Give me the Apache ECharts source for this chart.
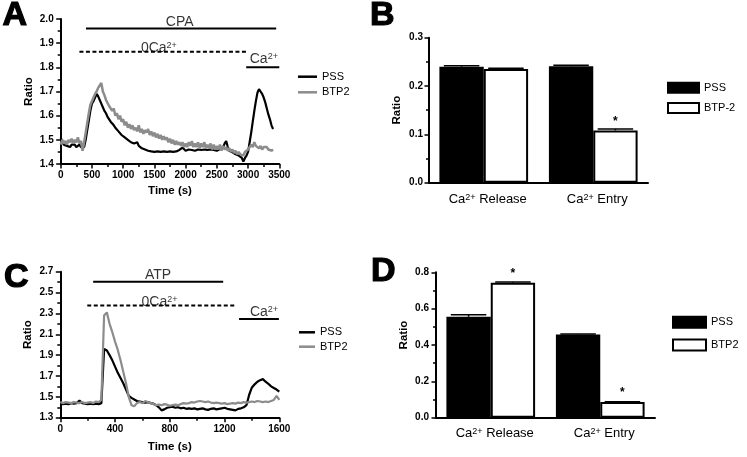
<!DOCTYPE html>
<html><head><meta charset="utf-8">
<script src="https://cdn.jsdelivr.net/npm/echarts@6/dist/echarts.min.js"></script>
<style>html,body{margin:0;padding:0;background:#fff}#c{width:747px;height:457px}</style>
</head><body><div id="c"></div>
<script>
// ---------- Panel A (CPA) traces ----------
const timeA = [0,25,50,75,100,125,150,175,200,225,250,275,300,325,350,375,400,425,450,475,500,525,550,575,600,625,650,675,700,725,750,775,800,825,850,875,900,925,950,975,1000,1025,1050,1075,1100,1125,1150,1175,1200,1225,1250,1275,1300,1325,1350,1375,1400,1425,1450,1475,1500,1525,1550,1575,1600,1625,1650,1675,1700,1725,1750,1775,1800,1825,1850,1875,1900,1925,1950,1975,2000,2025,2050,2075,2100,2125,2150,2175,2200,2225,2250,2275,2300,2325,2350,2375,2400,2425,2450,2475,2500,2525,2550,2575,2600,2625,2650,2675,2700,2725,2750,2775,2800,2825,2850,2875,2900,2925,2950,2975,3000,3025,3050,3075,3100,3125,3150,3175,3200,3225,3250,3275,3300,3325,3350,3375,3400];
const pssA = [
1.51,1.49,1.48,1.485,1.475,1.48,1.47,1.48,1.475,1.48,
1.47,1.475,1.48,1.47,1.465,1.47,1.50,1.54,1.58,1.62,
1.65,1.66,1.675,1.69,1.68,1.665,1.65,1.635,1.62,1.61,
1.595,1.59,1.575,1.57,1.56,1.55,1.545,1.535,1.53,1.52,
1.515,1.51,1.505,1.50,1.495,1.49,1.495,1.485,1.48,1.49,
1.475,1.47,1.465,1.465,1.46,1.458,1.455,1.46,1.452,1.455,
1.45,1.455,1.452,1.455,1.45,1.455,1.452,1.455,1.45,1.455,
1.452,1.455,1.45,1.455,1.452,1.45,1.458,1.465,1.468,1.46,
1.455,1.458,1.46,1.455,1.458,1.462,1.455,1.458,1.46,1.455,
1.458,1.455,1.46,1.455,1.458,1.455,1.46,1.455,1.458,1.46,
1.455,1.46,1.462,1.46,1.47,1.485,1.495,1.47,1.455,1.45,
1.448,1.445,1.44,1.44,1.435,1.43,1.425,1.41,1.425,1.435,
1.45,1.49,1.53,1.575,1.62,1.66,1.695,1.71,1.70,1.69,
1.675,1.655,1.63,1.605,1.585,1.56,1.545];
const btpA = [
1.48,1.50,1.485,1.495,1.48,1.50,1.49,1.505,1.485,1.50,
1.49,1.51,1.485,1.495,1.455,1.49,1.53,1.57,1.61,1.645,
1.66,1.675,1.69,1.70,1.715,1.725,1.735,1.70,1.685,1.665,
1.67,1.64,1.645,1.62,1.63,1.60,1.61,1.585,1.60,1.575,
1.585,1.56,1.575,1.55,1.565,1.545,1.56,1.54,1.55,1.535,
1.56,1.53,1.545,1.525,1.54,1.53,1.545,1.52,1.535,1.515,
1.53,1.51,1.525,1.505,1.52,1.50,1.515,1.50,1.51,1.49,
1.505,1.485,1.50,1.48,1.495,1.48,1.49,1.475,1.49,1.47,
1.485,1.47,1.49,1.475,1.495,1.47,1.485,1.47,1.49,1.465,
1.485,1.47,1.49,1.465,1.48,1.465,1.485,1.46,1.48,1.46,
1.475,1.46,1.48,1.455,1.475,1.46,1.47,1.455,1.465,1.45,
1.46,1.445,1.455,1.44,1.45,1.44,1.445,1.435,1.45,1.445,
1.46,1.465,1.48,1.47,1.49,1.475,1.48,1.465,1.475,1.46,
1.47,1.465,1.47,1.46,1.465,1.455,1.46];
// annotation bars A: label, start (s), end (s), level (ratio), label x, label y
const annLabelA = ['CPA', '0Ca{sup|2+}', 'Ca{sup|2+}'];
const annStartA = [405, 300, 2970];
const annEndA = [3450, 2980, 3500];
const annLevelA = [1.961, 1.864, 1.80];
const annTextXA = [1906, 1572, 3252];
const annTextYA = [1.987, 1.878, 1.833];

// ---------- Panel C (ATP) traces ----------
const timeC = [0,20,40,60,80,100,120,140,160,180,200,220,240,260,280,300,320,340,360,380,400,420,440,460,480,500,520,540,560,580,600,620,640,660,680,700,720,740,760,780,800,820,840,860,880,900,920,940,960,980,1000,1020,1040,1060,1080,1100,1120,1140,1160,1180,1200,1220,1240,1260,1280,1300,1320,1340,1360,1380,1400,1420,1440,1460,1480,1500,1520,1540,1560,1580,1600];
const pssC = [
1.44,1.43,1.435,1.43,1.44,1.435,1.44,1.465,1.44,1.435,
1.43,1.435,1.43,1.435,1.43,1.44,1.96,1.945,1.90,1.85,
1.79,1.73,1.68,1.63,1.57,1.51,1.49,1.475,1.46,1.455,
1.45,1.445,1.45,1.44,1.435,1.42,1.40,1.37,1.38,1.395,
1.40,1.405,1.395,1.40,1.39,1.395,1.385,1.39,1.385,1.39,
1.38,1.385,1.39,1.38,1.375,1.385,1.39,1.38,1.385,1.39,
1.395,1.385,1.38,1.375,1.37,1.385,1.39,1.40,1.42,1.52,
1.59,1.62,1.645,1.66,1.67,1.645,1.625,1.60,1.585,1.57,
1.55];
const btpC = [
1.45,1.44,1.45,1.445,1.44,1.45,1.445,1.44,1.45,1.44,
1.445,1.45,1.44,1.455,1.45,1.47,2.28,2.31,2.20,2.12,
2.03,1.95,1.85,1.74,1.63,1.50,1.42,1.41,1.44,1.45,
1.44,1.46,1.45,1.44,1.43,1.42,1.425,1.42,1.43,1.425,
1.415,1.42,1.425,1.42,1.43,1.44,1.435,1.44,1.45,1.445,
1.455,1.46,1.455,1.45,1.455,1.445,1.44,1.445,1.44,1.435,
1.44,1.43,1.435,1.44,1.435,1.445,1.44,1.45,1.445,1.45,
1.455,1.45,1.46,1.455,1.45,1.455,1.45,1.46,1.47,1.51,
1.47];
const annLabelC = ['ATP', '0Ca{sup|2+}', 'Ca{sup|2+}'];
const annStartC = [240, 197, 1306];
const annEndC = [1190, 1285, 1597];
const annLevelC = [2.604, 2.376, 2.246];
const annTextXC = [714, 725, 1488];
const annTextYC = [2.665, 2.405, 2.309];

// ---------- Panels B and D (bars) ----------
const categories = ['Ca{sup|2+} Release', 'Ca{sup|2+} Entry'];
const pssB = [0.240, 0.241];
const btpB = [0.235, 0.108];
const pssErrB = [0.002, 0.002];
const btpErrB = [0.002, 0.003];
const sigB = [false, true];
const pssD = [0.555, 0.458];
const btpD = [0.742, 0.086];
const pssErrD = [0.012, 0.002];
const btpErrD = [0.005, 0.002];
const sigD = [true, true];

// ---------- chart ----------
const FONT = '"Liberation Sans", Arial, Helvetica, sans-serif';
const GRAY = '#8c8c8c';
const CAT_GAP = 0.19;
function zip(xs, ys) { const n = Math.min(xs.length, ys.length); const o = []; for (let i = 0; i < n; i++) o.push([xs[i], ys[i]]); return o; }
const supRich = { sup: { fontSize: 9, verticalAlign: 'top', fontFamily: FONT, color: '#000' } };

function valueAxis(extra) {
  return Object.assign({
    type: 'value',
    axisLine: { show: true, onZero: false, lineStyle: { color: '#000', width: 2 } },
    axisTick: { show: true, length: 4.5, lineStyle: { color: '#000', width: 1.5 } },
    minorTick: { show: true, splitNumber: 2, length: 3, lineStyle: { color: '#000', width: 1.5 } },
    splitLine: { show: false }, minorSplitLine: { show: false },
    nameLocation: 'middle',
    nameTextStyle: { color: '#000', fontFamily: FONT, fontSize: 11.5, fontWeight: 'bold' }
  }, extra);
}
function tickLabel(margin, fmt) {
  return { color: '#000', fontFamily: FONT, fontSize: 10, fontWeight: 'bold', margin: margin, formatter: fmt };
}
function catAxis(gi, margin) {
  return {
    type: 'category', data: categories, gridIndex: gi,
    axisLine: { show: true, onZero: false, lineStyle: { color: '#000', width: 2 } },
    axisTick: { show: false },
    splitLine: { show: false },
    axisLabel: { interval: 0, color: '#000', fontFamily: FONT, fontSize: 13, margin: margin, padding: [0, 0, 0, 8], rich: supRich }
  };
}
const f1 = v => v.toFixed(1);
const f0 = v => String(v);

function traceSeries(name, gi, xs, ys, color, w) {
  return { type: 'line', name: name, xAxisIndex: gi, yAxisIndex: gi, data: zip(xs, ys), symbol: 'none', showSymbol: false,
    lineStyle: { color: color, width: w }, itemStyle: { color: color }, silent: true, z: 3 };
}
function annotSeries(gi, labels, starts, ends, levels, tx, ty) {
  const out = [];
  for (let i = 0; i < labels.length; i++) {
    out.push({ type: 'line', name: 'ann' + gi + '_' + i, xAxisIndex: gi, yAxisIndex: gi, symbol: 'none', silent: true,
      data: [[starts[i], levels[i]], [ends[i], levels[i]]],
      lineStyle: { color: '#000', width: 2, type: i === 1 ? [4, 2.5] : 'solid' }, z: 4 });
  }
  out.push({ type: 'scatter', name: 'annText' + gi, xAxisIndex: gi, yAxisIndex: gi, symbolSize: 1, silent: true,
    itemStyle: { color: 'rgba(0,0,0,0)' },
    data: labels.map((l, i) => ({ name: l, value: [tx[i], ty[i]] })),
    label: { show: true, position: 'inside', formatter: '{b}', color: '#000', fontFamily: FONT, fontSize: 14, rich: supRich }, z: 5 });
  return out;
}
function barSeries(name, gi, vals, fill, sig) {
  return { type: 'bar', name: name, xAxisIndex: gi, yAxisIndex: gi, barGap: '0%', barCategoryGap: (CAT_GAP * 100) + '%',
    data: vals.map((v, i) => ({ value: v, label: { show: sig ? sig[i] : false } })),
    itemStyle: { color: fill, borderColor: '#000', borderWidth: 2 },
    label: { show: false, position: 'top', distance: 3, formatter: '*', color: '#000', fontFamily: FONT, fontSize: 12, fontWeight: 'bold' },
    silent: true, z: 2 };
}
function errSeries(gi, vals, errs, side) {
  return { type: 'custom', name: 'err' + gi + side, xAxisIndex: gi, yAxisIndex: gi, silent: true, z: 3,
    data: vals.map((v, i) => [i, v, errs[i]]),
    renderItem: function (params, api) {
      const cat = api.value(0), val = api.value(1), err = api.value(2);
      const base = api.coord([cat, val]);
      const band = api.size([1, 0])[0];
      const barW = band * (1 - CAT_GAP) / 2;
      const cx = base[0] + side * barW / 2;
      const top = api.coord([cat, val + err])[1];
      const half = barW * 0.4;
      return { type: 'group', children: [
        { type: 'line', shape: { x1: cx, y1: base[1], x2: cx, y2: top }, style: { stroke: '#000', lineWidth: 1.5 } },
        { type: 'line', shape: { x1: cx - half, y1: top, x2: cx + half, y2: top }, style: { stroke: '#000', lineWidth: 1.5 } }
      ] };
    } };
}
function legend(names, left, top, iw, ih, gap, rowH) {
  return { data: names.map(n => ({ name: n, icon: 'rect' })),
    orient: 'vertical', left: left, top: top, padding: 0, itemWidth: iw, itemHeight: ih, itemGap: gap,
    selectedMode: false,
    formatter: n => n.slice(2),
    textStyle: { color: '#000', fontFamily: FONT, fontSize: 11, lineHeight: rowH } };
}
function letter(t, x, y) {
  return { type: 'text', x: x, y: y, style: { text: t, fontSize: 34, fontWeight: 'bold', fontFamily: FONT, fill: '#000',
    stroke: '#000', lineWidth: 1.2, textVerticalAlign: 'middle' } };
}

const option = {
  animation: false,
  backgroundColor: '#fff',
  textStyle: { fontFamily: FONT },
  grid: [
    { left: 60.7, top: 19, width: 218.6, height: 145 },
    { left: 429, top: 37.7, width: 219, height: 145 },
    { left: 60.3, top: 271.7, width: 219, height: 146 },
    { left: 436, top: 272.3, width: 219, height: 145.4 }
  ],
  xAxis: [
    valueAxis({ gridIndex: 0, min: 0, max: 3500, interval: 500, name: 'Time (s)', nameGap: 21, axisLabel: tickLabel(6, f0) }),
    catAxis(1, 10),
    valueAxis({ gridIndex: 2, min: 0, max: 1600, interval: 400, name: 'Time (s)', nameGap: 23, axisLabel: tickLabel(7, f0) }),
    catAxis(3, 9)
  ],
  yAxis: [
    valueAxis({ gridIndex: 0, min: 1.4, max: 2.0, interval: 0.1, name: 'Ratio', nameGap: 26, axisLabel: tickLabel(7, f1) }),
    valueAxis({ gridIndex: 1, min: 0, max: 0.3, interval: 0.1, name: 'Ratio', nameGap: 26, axisLabel: tickLabel(6, f1) }),
    valueAxis({ gridIndex: 2, min: 1.3, max: 2.7, interval: 0.2, name: 'Ratio', nameGap: 26,
      nameTextStyle: { color: '#000', fontFamily: FONT, fontSize: 11.5, fontWeight: 'bold', padding: [0, 0, 0, 20] },
      axisLabel: tickLabel(7, f1) }),
    valueAxis({ gridIndex: 3, min: 0, max: 0.8, interval: 0.2, name: 'Ratio', nameGap: 26,
      nameTextStyle: { color: '#000', fontFamily: FONT, fontSize: 11.5, fontWeight: 'bold', padding: [0, 0, 0, 20] },
      axisLabel: tickLabel(7, f1) })
  ],
  legend: [
    legend(['A-PSS', 'A-BTP2'], 298, 70.7, 19, 2.5, 3.6, 12),
    legend(['B-PSS', 'B-BTP-2'], 667, 81.7, 31, 10, 8.3, 10),
    legend(['C-PSS', 'C-BTP2'], 299, 326.3, 16, 2.5, 2.4, 12),
    legend(['D-PSS', 'D-BTP2'], 672, 315.7, 33, 11, 9.7, 11)
  ],
  series: [
    traceSeries('A-PSS', 0, timeA, pssA, '#000', 2.2),
    traceSeries('A-BTP2', 0, timeA, btpA, GRAY, 2.5),
    ...annotSeries(0, annLabelA, annStartA, annEndA, annLevelA, annTextXA, annTextYA),
    traceSeries('C-PSS', 2, timeC, pssC, '#000', 2.2),
    traceSeries('C-BTP2', 2, timeC, btpC, GRAY, 2.2),
    ...annotSeries(2, annLabelC, annStartC, annEndC, annLevelC, annTextXC, annTextYC),
    barSeries('B-PSS', 1, pssB, '#000', null),
    barSeries('B-BTP-2', 1, btpB, '#fff', sigB),
    errSeries(1, pssB, pssErrB, -1),
    errSeries(1, btpB, btpErrB, 1),
    barSeries('D-PSS', 3, pssD, '#000', null),
    barSeries('D-BTP2', 3, btpD, '#fff', sigD),
    errSeries(3, pssD, pssErrD, -1),
    errSeries(3, btpD, btpErrD, 1)
  ],
  graphic: [
    letter('A', 2.5, 15.5),
    letter('B', 370, 15.5),
    letter('C', 4, 278),
    letter('D', 371, 271.5)
  ]
};
const chart = echarts.init(document.getElementById('c'), null, { renderer: 'canvas' });
chart.setOption(option);
</script>
</body></html>
